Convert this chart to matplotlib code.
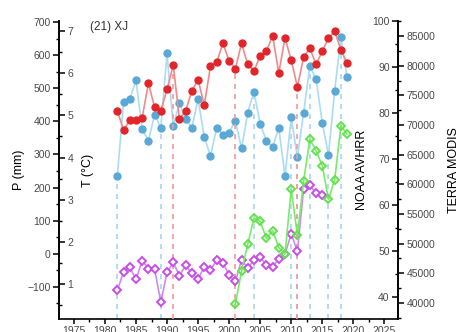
import numpy as np
import matplotlib.pyplot as plt
from matplotlib.ticker import MultipleLocator

plt.rcParams['font.family'] = ['Liberation Sans', 'DejaVu Sans']

# annual series for the XJ region
years = np.arange(1982, 2020)
precip = [236, 457, 467, 524, 376, 342, 420, 381, 605, 386,
          456, 406, 381, 467, 353, 295, 381, 360, 366, 402,
          318, 426, 489, 392, 342, 322, 380, 234, 412, 291,
          426, 567, 528, 396, 298, 492, 654, 533]
temp = [5.11, 4.65, 4.89, 4.89, 4.95, 5.76, 5.20, 5.11, 5.62, 6.19,
        4.91, 5.11, 5.58, 5.85, 5.24, 6.17, 6.26, 6.71, 6.30, 6.10,
        6.71, 6.21, 6.05, 6.42, 6.52, 6.89, 6.01, 6.84, 6.31, 5.68,
        6.38, 6.60, 6.21, 6.52, 6.83, 7.00, 6.55, 6.25]

avhrr_years = np.arange(1982, 2016)
avhrr = [41.4, 45.5, 46.5, 43.8, 47.9, 46.1, 46.1, 38.8, 45.4, 47.5,
         44.6, 46.9, 45.1, 43.8, 46.6, 45.8, 48.0, 47.4, 44.7, 43.4,
         48.0, 46.3, 48.0, 48.7, 46.9, 46.6, 48.2, 49.3, 53.7, 49.9,
         63.5, 64.3, 62.5, 62.2]

modis_years = np.arange(2001, 2020)
modis = [39780, 45390, 49890, 54320, 53770, 50870, 52170, 49350, 48210, 59160,
         51430, 60560, 67610, 65670, 63140, 57480, 60730, 69880, 68450]

# years marked with drop lines
p_mark_years = [1982, 1989, 2004, 2010, 2011, 2013, 2016, 2018]
t_mark_years = [1991, 2001, 2011]

P_LIM = (-197, 703)
T_LIM = (0.17, 7.24)
A_LIM = (35.2, 100.0)
M_LIM = (37300, 87530)

tick_col = '#4a4a4a'

fig = plt.figure(figsize=(4.62, 3.32), dpi=100)
ax = fig.add_axes([59 / 462, 1 - 319 / 332, 339 / 462, 298 / 332])
ax_t = ax.twinx()
ax_a = ax.twinx()
ax_m = ax.twinx()

for a in (ax, ax_t, ax_a, ax_m):
    a.set_xlim(1972.6, 2027.2)
    a.patch.set_visible(False)
    for s in a.spines.values():
        s.set_visible(False)
        s.set_linewidth(1.2)

# P axis on the left
ax.spines['left'].set_visible(True)
ax.spines['bottom'].set_visible(True)
ax.set_ylim(*P_LIM)
ax.yaxis.set_major_locator(MultipleLocator(100))
ax.yaxis.set_minor_locator(MultipleLocator(50))
ax.xaxis.set_major_locator(MultipleLocator(5))
ax.xaxis.set_minor_locator(MultipleLocator(2.5))
ax.tick_params(axis='y', which='major', length=4, width=1.1, labelsize=7.5,
               labelcolor=tick_col, pad=2)
ax.tick_params(axis='y', which='minor', length=2.5, width=1.0)
ax.tick_params(axis='x', which='major', length=3.5, width=1.1, labelsize=7.5,
               labelcolor=tick_col, pad=1.5)
ax.tick_params(axis='x', which='minor', length=2.5, width=1.0)
ax.set_ylabel('P (mm)', fontsize=9, labelpad=2)

# T axis sharing the left spine, ticks pointing inward
ax_t.spines['right'].set_position(('axes', 0))
ax_t.spines['right'].set_visible(True)
ax_t.set_ylim(*T_LIM)
ax_t.yaxis.set_major_locator(MultipleLocator(1))
ax_t.yaxis.set_minor_locator(MultipleLocator(0.5))
ax_t.tick_params(axis='y', which='major', length=4, width=1.1, labelsize=7.5,
                 labelcolor=tick_col, pad=2)
ax_t.tick_params(axis='y', which='minor', length=2.5, width=1.0)
ax_t.set_ylabel('T (°C)', fontsize=9, labelpad=6)

# NOAA AVHRR on the right spine, ticks pointing inward
ax_a.yaxis.set_ticks_position('left')
ax_a.yaxis.set_label_position('left')
ax_a.spines['left'].set_position(('axes', 1))
ax_a.spines['left'].set_visible(True)
ax_a.set_ylim(*A_LIM)
ax_a.yaxis.set_major_locator(MultipleLocator(10))
ax_a.yaxis.set_minor_locator(MultipleLocator(5))
ax_a.tick_params(axis='y', which='major', length=4, width=1.1, labelsize=7.5,
                 labelcolor=tick_col, pad=2)
ax_a.tick_params(axis='y', which='minor', length=2.5, width=1.0)
ax_a.set_ylabel('NOAA AVHRR', fontsize=9, labelpad=3)

# TERRA MODIS on the right spine, ticks pointing outward
ax_m.spines['right'].set_visible(True)
ax_m.set_ylim(*M_LIM)
ax_m.yaxis.set_major_locator(MultipleLocator(5000))
ax_m.yaxis.set_minor_locator(MultipleLocator(2500))
ax_m.tick_params(axis='y', which='major', length=4, width=1.1, labelsize=7.5,
                 labelcolor=tick_col, pad=2)
ax_m.tick_params(axis='y', which='minor', length=2.5, width=1.0)
ax_m.set_ylabel('TERRA MODIS', fontsize=9, labelpad=9)

for a in (ax_t, ax_a, ax_m):
    a.tick_params(axis='x', which='both', bottom=False, labelbottom=False)

# drop lines
p_lookup = dict(zip(years, precip))
t_lookup = dict(zip(years, temp))
ax.vlines(p_mark_years, P_LIM[0], [p_lookup[y] for y in p_mark_years],
          colors='#a8d6f0', linestyles=(0, (3, 3)), linewidth=1.2, zorder=1)
ax_t.vlines(t_mark_years, T_LIM[0], [t_lookup[y] for y in t_mark_years],
            colors='#f29a9a', linestyles=(0, (3, 3)), linewidth=1.2, zorder=1)

# series
ax.plot(years, precip, color='#aadcf3', lw=1.2, marker='o', ms=5.0,
        mfc='#5aa8d6', mec='#5aa8d6', zorder=3)
ax_t.plot(years, temp, color='#f08a8a', lw=1.2, marker='o', ms=5.0,
          mfc='#e0262a', mec='#e0262a', zorder=3)
ax_a.plot(avhrr_years, avhrr, color='#d08af0', lw=1.2, marker='D', ms=4.2,
          mfc='white', mec='#c84de8', mew=1.4, zorder=3)
ax_m.plot(modis_years, modis, color='#78ec68', lw=1.2, marker='D', ms=4.2,
          mfc='none', mec='#62e24e', mew=1.4, zorder=3)

ax.text(0.09, 0.98, '(21) XJ', transform=ax.transAxes, fontsize=8.5,
        ha='left', va='center', color='#333333')

fig.savefig('out.png', dpi=100)
